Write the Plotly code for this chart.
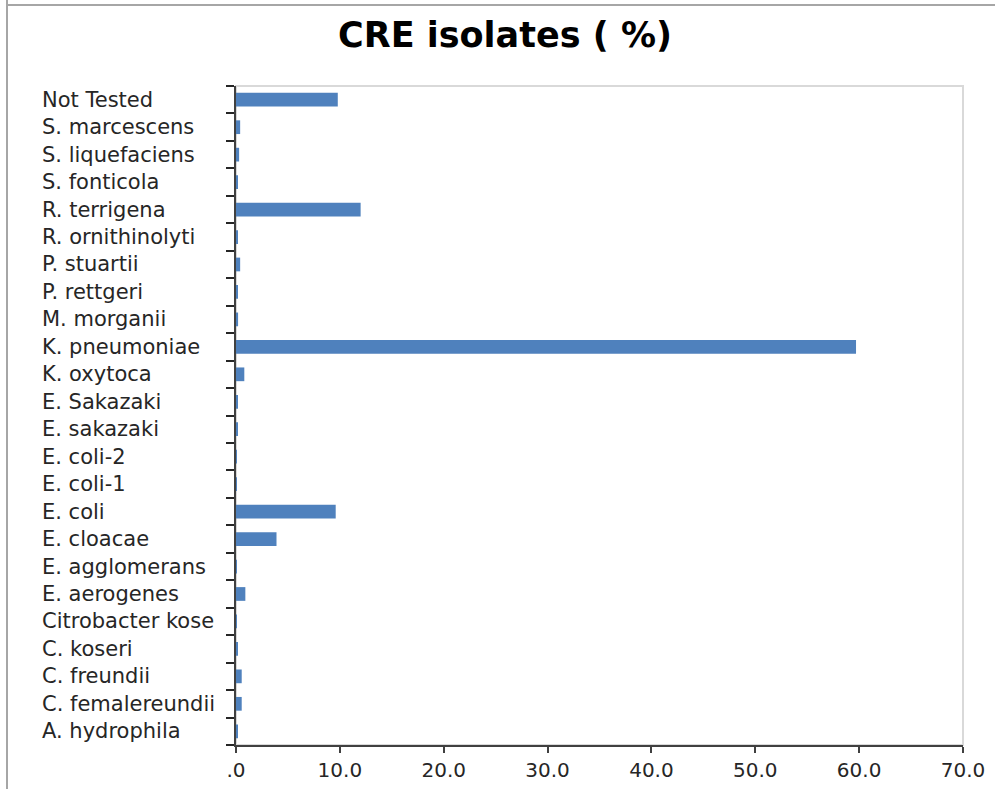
import plotly.graph_objects as go

categories = ["A. hydrophila", "C. femalereundii", "C. freundii", "C. koseri",
              "Citrobacter kose", "E. aerogenes", "E. agglomerans", "E. cloacae",
              "E. coli", "E. coli-1", "E. coli-2", "E. sakazaki", "E. Sakazaki",
              "K. oxytoca", "K. pneumoniae", "M. morganii", "P. rettgeri",
              "P. stuartii", "R. ornithinolyti", "R. terrigena", "S. fonticola",
              "S. liquefaciens", "S. marcescens", "Not Tested"]
values = [0.1, 0.55, 0.55, 0.1,
          0.05, 0.9, 0.05, 3.9,
          9.6, 0.05, 0.05, 0.1, 0.15,
          0.8, 59.7, 0.2, 0.1,
          0.4, 0.1, 12.0, 0.1,
          0.3, 0.4, 9.8]
x_tickvals = [0, 10, 20, 30, 40, 50, 60, 70]
x_ticktext = [".0", "10.0", "20.0", "30.0", "40.0", "50.0", "60.0", "70.0"]

W, H = 995, 789
ml, mr, mt, mb = 236, 32, 86, 44
pw = W - ml - mr
ph = H - mt - mb

fig = go.Figure(go.Bar(
    x=values, y=categories, orientation="h",
    marker=dict(color="#4F81BD", line=dict(width=0)),
    width=0.5,
))

annotations = [dict(x=(40 - ml) / pw, y=c, xref="paper", yref="y", text=c,
                    showarrow=False, xanchor="left", yanchor="middle",
                    font=dict(family="DejaVu Sans", size=21, color="#262626"))
               for c in categories]

fig.update_layout(
    width=W, height=H,
    margin=dict(l=ml, r=mr, t=mt, b=mb, autoexpand=False),
    paper_bgcolor="white", plot_bgcolor="white",
    title=dict(text="<b>CRE isolates ( %)</b>", x=505 / W, xanchor="center",
               y=1 - 35 / H, yanchor="middle", yref="container",
               font=dict(family="DejaVu Sans", size=35, color="black")),
    xaxis=dict(range=[0, 70], tickvals=x_tickvals, ticktext=x_ticktext,
               showgrid=False, zeroline=False, showline=True, linecolor="#404040",
               linewidth=2, ticks="outside", ticklen=6, tickwidth=2, tickcolor="#404040",
               tickfont=dict(family="DejaVu Sans", size=20, color="#262626")),
    yaxis=dict(type="category", categoryorder="array", categoryarray=categories,
               range=[-0.5, len(categories) - 0.5],
               showgrid=False, zeroline=False, showline=True, linecolor="#404040",
               linewidth=2, ticks="outside", ticklen=8, tickwidth=2, tickcolor="#262626",
               tickson="boundaries", showticklabels=False),
    shapes=[
        dict(type="rect", xref="paper", yref="paper", x0=0, x1=1, y0=0, y1=1,
             line=dict(color="#D9D9D9", width=2), layer="below"),
        dict(type="line", xref="paper", yref="paper", x0=(7 - ml) / pw, x1=(7 - ml) / pw,
             y0=-0.2, y1=1.2, line=dict(color="#A6A6A6", width=2)),
        dict(type="line", xref="paper", yref="paper", x0=(7 - ml) / pw, x1=1.2,
             y0=1 + (mt - 5) / ph, y1=1 + (mt - 5) / ph,
             line=dict(color="#A6A6A6", width=2)),
    ],
    annotations=annotations,
    showlegend=False,
)

fig.write_html("out.html", config={"displayModeBar": False},
               post_script="document.body.style.margin='0';")
